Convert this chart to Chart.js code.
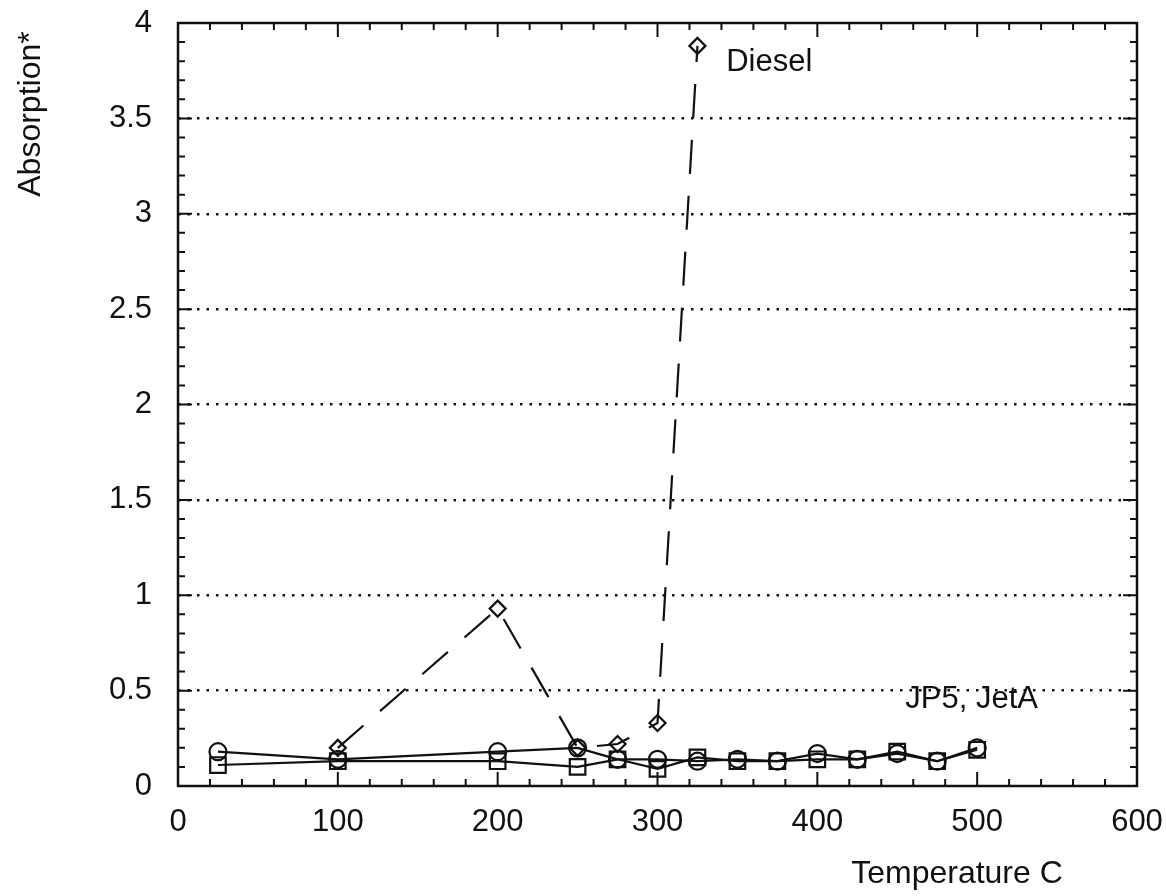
<!DOCTYPE html>
<html>
<head>
<meta charset="utf-8">
<title>Absorption vs Temperature</title>
<script src="https://cdn.jsdelivr.net/npm/chart.js@4.4.0/dist/chart.umd.min.js"></script>
<style>
  html,body{margin:0;padding:0;background:#fff;}
  #wrap{width:1166px;height:896px;}
</style>
</head>
<body>
<div id="wrap"><canvas id="chart" width="1166" height="896"></canvas></div>
<script>
// values
const jetTemps   = [25, 100, 200, 250, 275, 300, 325, 350, 375, 400, 425, 450, 475, 500];
const jp5Vals    = [0.18, 0.14, 0.18, 0.20, 0.14, 0.14, 0.13, 0.14, 0.13, 0.17, 0.14, 0.17, 0.13, 0.20];
const jetAVals   = [0.11, 0.13, 0.13, 0.10, 0.14, 0.09, 0.15, 0.13, 0.13, 0.14, 0.14, 0.18, 0.13, 0.19];
const dieselTemps = [100, 200, 250, 275, 300, 325];
const dieselVals  = [0.20, 0.93, 0.20, 0.22, 0.33, 3.88];
const xRange = [0, 600];
const yRange = [0, 4];
const notes = [
  { text: "Diesel",    x: 343, y: 3.75 },
  { text: "JP5, JetA", x: 455, y: 0.41 }
];

const FONT = "'Liberation Sans', Arial, Helvetica, sans-serif";
const INK = "#111";

function pts(xs, ys){ return xs.map((x, i) => ({ x, y: ys[i] })); }

// frame + inward ticks on all four sides
const framePlugin = {
  id: "frame",
  beforeDatasetsDraw(chart){
    const { ctx, chartArea: a, scales: { x, y } } = chart;
    ctx.save();
    ctx.strokeStyle = INK;
    ctx.lineWidth = 2;
    for (let v = xRange[0] + 20; v < xRange[1]; v += 20){
      const px = x.getPixelForValue(v), len = v % 100 === 0 ? 14 : 7;
      ctx.beginPath();
      ctx.moveTo(px, a.bottom); ctx.lineTo(px, a.bottom - len);
      ctx.moveTo(px, a.top); ctx.lineTo(px, a.top + len);
      ctx.stroke();
    }
    for (let i = 1; i < 40; i++){
      const py = y.getPixelForValue(i / 10), len = i % 5 === 0 ? 14 : 7;
      ctx.beginPath();
      ctx.moveTo(a.left, py); ctx.lineTo(a.left + len, py);
      ctx.moveTo(a.right, py); ctx.lineTo(a.right - len, py);
      ctx.stroke();
    }
    ctx.lineWidth = 2.5;
    ctx.strokeRect(a.left, a.top, a.right - a.left, a.bottom - a.top);
    ctx.restore();
  },
  afterDraw(chart){
    const { ctx, scales: { x, y } } = chart;
    ctx.save();
    ctx.fillStyle = INK;
    ctx.font = "31px " + FONT;
    ctx.textBaseline = "alphabetic";
    ctx.textAlign = "left";
    notes.forEach(n => ctx.fillText(n.text, x.getPixelForValue(n.x), y.getPixelForValue(n.y)));
    // axis titles
    ctx.font = "32px " + FONT;
    ctx.textAlign = "center";
    ctx.fillText("Temperature C", 957, 883);
    ctx.translate(40, 114);
    ctx.rotate(-Math.PI / 2);
    ctx.fillText("Absorption*", 0, 0);
    ctx.restore();
  }
};

const markerBase = {
  borderColor: INK,
  backgroundColor: "rgba(0,0,0,0)",
  pointBorderColor: INK,
  pointBackgroundColor: "rgba(0,0,0,0)",
  pointBorderWidth: 2.2,
  borderWidth: 2.2,
  tension: 0,
  fill: false
};

new Chart(document.getElementById("chart").getContext("2d"), {
  type: "line",
  data: {
    datasets: [
      { ...markerBase, label: "JP5",  data: pts(jetTemps, jp5Vals),  pointStyle: "circle", pointRadius: 8.5 },
      { ...markerBase, label: "JetA", data: pts(jetTemps, jetAVals), pointStyle: "rect",   pointRadius: 11 },
      { ...markerBase, label: "Diesel", data: pts(dieselTemps, dieselVals), pointStyle: "rectRot", pointRadius: 8,
        borderDash: [34, 22] }
    ]
  },
  options: {
    responsive: false,
    devicePixelRatio: 1,
    animation: false,
    layout: { padding: { top: 23, right: 29, left: 0, bottom: 0 } },
    plugins: { legend: { display: false }, tooltip: { enabled: false } },
    scales: {
      x: {
        type: "linear", min: xRange[0], max: xRange[1],
        ticks: { stepSize: 100, color: INK, font: { family: FONT, size: 31 }, padding: 18, maxRotation: 0 },
        grid: { display: false, drawTicks: false },
        border: { display: false },
        afterFit: s => { s.height = 110; s.paddingLeft = 0; s.paddingRight = 0; }
      },
      y: {
        type: "linear", min: yRange[0], max: yRange[1],
        ticks: { stepSize: 0.5, color: INK, font: { family: FONT, size: 31 }, padding: 26,
                 callback: v => String(Number(v)) },
        grid: {
          drawTicks: false, lineWidth: 2.5,
          color: c => (c.tick && (c.tick.value === yRange[0] || c.tick.value === yRange[1])) ? "rgba(0,0,0,0)" : INK
        },
        border: { display: false, dash: [2.5, 7] },
        afterFit: s => { s.width = 178; s.paddingTop = 0; s.paddingBottom = 0; }
      }
    }
  },
  plugins: [framePlugin]
});
</script>
</body>
</html>
